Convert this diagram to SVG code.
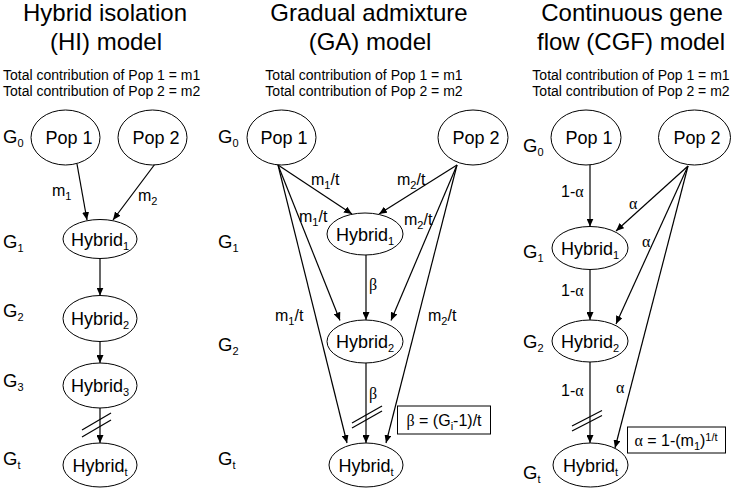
<svg xmlns="http://www.w3.org/2000/svg" width="733" height="488" viewBox="0 0 733 488">
<defs>
<marker id="ah" markerWidth="8" markerHeight="7" refX="8" refY="3.5" orient="auto" markerUnits="userSpaceOnUse">
<path d="M0,0 L8,3.5 L0,7 z" fill="#000"/>
</marker>
<style>
text{font-family:"Liberation Sans",Arial,sans-serif;fill:#000}
.title{font-size:24px;text-anchor:middle}
.tot{font-size:14px}
.node ellipse{fill:#fff;stroke:#000;stroke-width:1}
.nt{font-size:18px;text-anchor:middle}
.g{font-size:18.5px}
.lab{font-size:16px}
.sub{font-size:11px}
.gr{font-family:"Liberation Serif","Times New Roman",serif}
.conn line{stroke:#000;stroke-width:1.2}
.arr{marker-end:url(#ah)}
.box{fill:#fff;stroke:#000;stroke-width:1}
</style>
</defs>
<rect width="733" height="488" fill="#fff"/>

<!-- Titles -->
<text class="title" x="105" y="21">Hybrid isolation</text>
<text class="title" x="106" y="50">(HI) model</text>
<text class="title" x="369" y="21">Gradual admixture</text>
<text class="title" x="370" y="50">(GA) model</text>
<text class="title" x="632" y="21">Continuous gene</text>
<text class="title" x="631" y="50">flow (CGF) model</text>

<!-- Totals -->
<text class="tot" x="3" y="80">Total contribution of Pop 1 = m1</text>
<text class="tot" x="3" y="96">Total contribution of Pop 2 = m2</text>
<text class="tot" x="364" y="80" text-anchor="middle">Total contribution of Pop 1 = m1</text>
<text class="tot" x="364" y="96" text-anchor="middle">Total contribution of Pop 2 = m2</text>
<text class="tot" x="631" y="80" text-anchor="middle">Total contribution of Pop 1 = m1</text>
<text class="tot" x="631" y="96" text-anchor="middle">Total contribution of Pop 2 = m2</text>

<!-- Generation labels -->
<g id="gen-labels">
<text class="g" x="3" y="143">G<tspan class="sub" dy="4">0</tspan></text>
<text class="g" x="3" y="248">G<tspan class="sub" dy="4">1</tspan></text>
<text class="g" x="3" y="317">G<tspan class="sub" dy="4">2</tspan></text>
<text class="g" x="3" y="387">G<tspan class="sub" dy="4">3</tspan></text>
<text class="g" x="3" y="465">G<tspan class="sub" dy="4">t</tspan></text>
<text class="g" x="218" y="143">G<tspan class="sub" dy="4">0</tspan></text>
<text class="g" x="218" y="248">G<tspan class="sub" dy="4">1</tspan></text>
<text class="g" x="218" y="351">G<tspan class="sub" dy="4">2</tspan></text>
<text class="g" x="218" y="465">G<tspan class="sub" dy="4">t</tspan></text>
<text class="g" x="523" y="152">G<tspan class="sub" dy="4">0</tspan></text>
<text class="g" x="523" y="258">G<tspan class="sub" dy="4">1</tspan></text>
<text class="g" x="523" y="348">G<tspan class="sub" dy="4">2</tspan></text>
<text class="g" x="523" y="479">G<tspan class="sub" dy="4">t</tspan></text>
</g>

<!-- Connectors -->
<g id="connectors" class="conn">
<!-- HI -->
<line class="arr" x1="77" y1="164" x2="87" y2="220"/>
<line class="arr" x1="155" y1="164" x2="113" y2="220"/>
<line class="arr" x1="100" y1="258.5" x2="100" y2="295.5"/>
<line class="arr" x1="100" y1="341.5" x2="100" y2="363"/>
<line class="arr" x1="100" y1="408" x2="100" y2="443"/>
<line x1="82" y1="430" x2="111" y2="413"/>
<line x1="82" y1="437" x2="111" y2="420"/>
<!-- GA -->
<line class="arr" x1="278" y1="165" x2="352" y2="214"/>
<line class="arr" x1="278" y1="165" x2="340" y2="320.5"/>
<line class="arr" x1="278" y1="165" x2="347" y2="443"/>
<line class="arr" x1="457" y1="165" x2="379" y2="214"/>
<line class="arr" x1="457" y1="165" x2="391" y2="320.5"/>
<line class="arr" x1="457" y1="165" x2="386" y2="443"/>
<line class="arr" x1="366" y1="255" x2="366" y2="320"/>
<line class="arr" x1="366" y1="363" x2="366" y2="443"/>
<line x1="352" y1="423" x2="382" y2="406"/>
<line x1="352" y1="428" x2="382" y2="411"/>
<!-- CGF -->
<line class="arr" x1="590" y1="165" x2="590" y2="226.5"/>
<line class="arr" x1="590" y1="269.5" x2="590" y2="320"/>
<line class="arr" x1="590" y1="362" x2="590" y2="443"/>
<line class="arr" x1="688" y1="166" x2="616" y2="231"/>
<line class="arr" x1="688" y1="166" x2="616" y2="324"/>
<line class="arr" x1="688" y1="166" x2="615" y2="448"/>
<line x1="572" y1="426" x2="602" y2="410.5"/>
<line x1="572" y1="431" x2="602" y2="415.5"/>
</g>

<!-- Edge labels -->
<g id="edge-labels">
<text class="lab" x="52" y="196">m<tspan class="sub" dy="4">1</tspan></text>
<text class="lab" x="138" y="201">m<tspan class="sub" dy="4">2</tspan></text>

<text class="lab" x="311" y="185">m<tspan class="sub" dy="4">1</tspan><tspan dy="-4">/t</tspan></text>
<text class="lab" x="299" y="222">m<tspan class="sub" dy="4">1</tspan><tspan dy="-4">/t</tspan></text>
<text class="lab" x="275" y="321">m<tspan class="sub" dy="4">1</tspan><tspan dy="-4">/t</tspan></text>
<text class="lab" x="397" y="185">m<tspan class="sub" dy="4">2</tspan><tspan dy="-4">/t</tspan></text>
<text class="lab" x="404" y="225">m<tspan class="sub" dy="4">2</tspan><tspan dy="-4">/t</tspan></text>
<text class="lab" x="428" y="321">m<tspan class="sub" dy="4">2</tspan><tspan dy="-4">/t</tspan></text>
<text class="lab gr" x="369" y="290">β</text>
<text class="lab gr" x="369" y="399">β</text>

<text class="lab" x="561" y="197">1-<tspan class="gr">α</tspan></text>
<text class="lab" x="561" y="296">1-<tspan class="gr">α</tspan></text>
<text class="lab" x="561" y="396">1-<tspan class="gr">α</tspan></text>
<text class="lab gr" x="629" y="209">α</text>
<text class="lab gr" x="642" y="247">α</text>
<text class="lab gr" x="616" y="393">α</text>
</g>

<!-- Formula boxes -->
<g id="beta-box">
<rect class="box" x="397.5" y="406" width="93" height="28"/>
<text class="lab" x="444" y="426" text-anchor="middle"><tspan class="gr">β</tspan> = (G<tspan class="sub" dy="4">i</tspan><tspan dy="-4">-1)/t</tspan></text>
</g>
<g id="alpha-box">
<rect class="box" x="627.5" y="427" width="98" height="26"/>
<text class="lab" x="676" y="446" text-anchor="middle"><tspan class="gr">α</tspan> = 1-(m<tspan class="sub" dy="4">1</tspan><tspan dy="-4">)</tspan><tspan class="sub" dy="-5">1/t</tspan></text>
</g>

<!-- Nodes: HI -->
<g id="hi-pop1" class="node"><ellipse cx="65.5" cy="137.5" rx="34.5" ry="27.5"/><text class="nt" x="69" y="143.5">Pop 1</text></g>
<g id="hi-pop2" class="node"><ellipse cx="152.5" cy="137.5" rx="34.5" ry="27.5"/><text class="nt" x="156" y="143.5">Pop 2</text></g>
<g id="hi-hybrid1" class="node"><ellipse cx="100" cy="239" rx="37" ry="19.5"/><text class="nt" x="100" y="245.5">Hybrid<tspan class="sub" dy="4">1</tspan></text></g>
<g id="hi-hybrid2" class="node"><ellipse cx="100" cy="318.5" rx="37" ry="23"/><text class="nt" x="100" y="325">Hybrid<tspan class="sub" dy="4">2</tspan></text></g>
<g id="hi-hybrid3" class="node"><ellipse cx="100" cy="385.5" rx="37" ry="22.5"/><text class="nt" x="100" y="392">Hybrid<tspan class="sub" dy="4">3</tspan></text></g>
<g id="hi-hybridt" class="node"><ellipse cx="100" cy="465" rx="37" ry="22"/><text class="nt" x="100" y="471.5">Hybrid<tspan class="sub" dy="4">t</tspan></text></g>

<!-- Nodes: GA -->
<g id="ga-pop1" class="node"><ellipse cx="281.5" cy="137.5" rx="34.5" ry="27.5"/><text class="nt" x="284" y="143.5">Pop 1</text></g>
<g id="ga-pop2" class="node"><ellipse cx="473" cy="137.5" rx="35" ry="27.5"/><text class="nt" x="476" y="143.5">Pop 2</text></g>
<g id="ga-hybrid1" class="node"><ellipse cx="365" cy="234" rx="38" ry="21"/><text class="nt" x="365" y="240.5">Hybrid<tspan class="sub" dy="4">1</tspan></text></g>
<g id="ga-hybrid2" class="node"><ellipse cx="365" cy="341.5" rx="38" ry="21.5"/><text class="nt" x="365" y="348">Hybrid<tspan class="sub" dy="4">2</tspan></text></g>
<g id="ga-hybridt" class="node"><ellipse cx="366" cy="465" rx="37" ry="22"/><text class="nt" x="366" y="471.5">Hybrid<tspan class="sub" dy="4">t</tspan></text></g>

<!-- Nodes: CGF -->
<g id="cgf-pop1" class="node"><ellipse cx="586" cy="137.5" rx="35" ry="27.5"/><text class="nt" x="589" y="143.5">Pop 1</text></g>
<g id="cgf-pop2" class="node"><ellipse cx="694.5" cy="137.5" rx="36" ry="27.5"/><text class="nt" x="697" y="143.5">Pop 2</text></g>
<g id="cgf-hybrid1" class="node"><ellipse cx="590" cy="248" rx="38" ry="21.5"/><text class="nt" x="590" y="254.5">Hybrid<tspan class="sub" dy="4">1</tspan></text></g>
<g id="cgf-hybrid2" class="node"><ellipse cx="590" cy="341" rx="38" ry="21"/><text class="nt" x="590" y="347.5">Hybrid<tspan class="sub" dy="4">2</tspan></text></g>
<g id="cgf-hybridt" class="node"><ellipse cx="590.5" cy="465" rx="37.5" ry="22"/><text class="nt" x="590.5" y="471.5">Hybrid<tspan class="sub" dy="4">t</tspan></text></g>
</svg>
